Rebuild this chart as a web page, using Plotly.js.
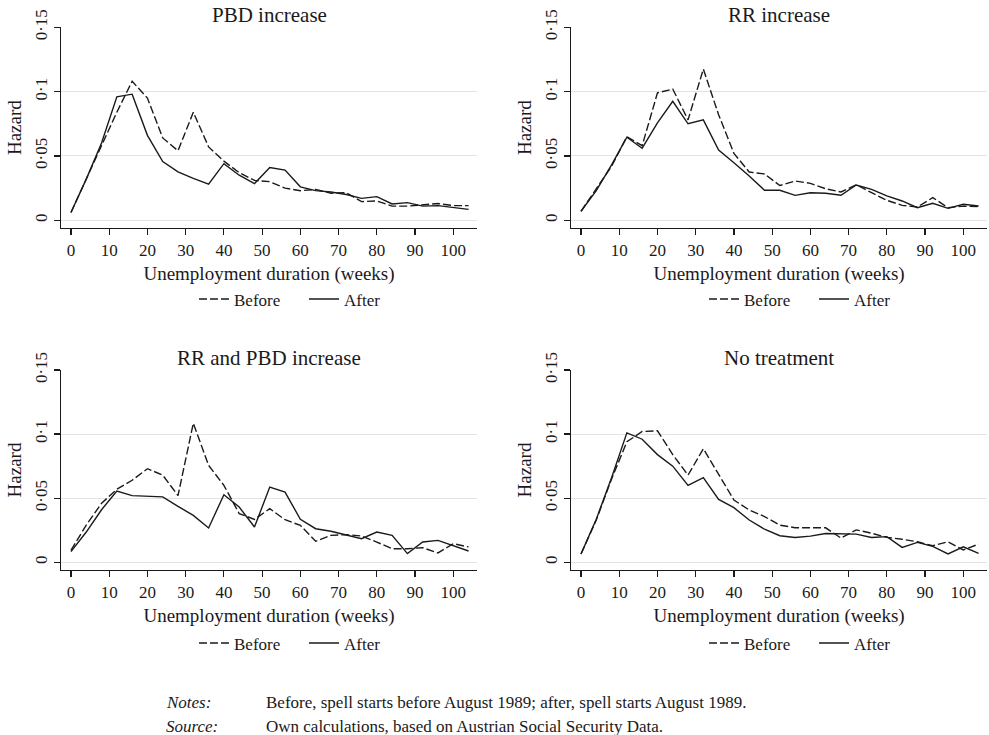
<!DOCTYPE html>
<html>
<head>
<meta charset="utf-8">
<script src="https://cdn.plot.ly/plotly-3.0.1.min.js"></script>
<style>html,body{margin:0;padding:0;background:#fff;}#chart{width:989px;height:735px;}</style>
</head>
<body>
<div id="chart"></div>
<script>
// ---- data (hazard by unemployment duration in weeks) ----
const weeks = [0,4,8,12,16,20,24,28,32,36,40,44,48,52,56,60,64,68,72,76,80,84,88,92,96,100,104];

const pbdBefore  = [0.006,0.032,0.058,0.084,0.108,0.095,0.064,0.054,0.084,0.057,0.046,0.037,0.031,0.030,0.025,0.023,0.024,0.021,0.0215,0.0145,0.015,0.011,0.011,0.012,0.013,0.0114,0.0114];
const pbdAfter   = [0.006,0.032,0.060,0.096,0.098,0.066,0.0456,0.0376,0.0326,0.028,0.044,0.035,0.0285,0.041,0.039,0.026,0.023,0.022,0.020,0.017,0.0184,0.0127,0.0137,0.011,0.0114,0.0098,0.0085];

const rrBefore   = [0.007,0.024,0.042,0.065,0.058,0.099,0.102,0.078,0.1175,0.082,0.052,0.0375,0.036,0.027,0.0305,0.0287,0.0245,0.022,0.0276,0.0214,0.0155,0.0116,0.0103,0.0176,0.0098,0.011,0.0106];
const rrAfter    = [0.007,0.023,0.043,0.0646,0.056,0.0757,0.0925,0.075,0.078,0.0545,0.0447,0.0344,0.0233,0.0233,0.0194,0.0214,0.021,0.0194,0.0274,0.024,0.0189,0.015,0.0098,0.0132,0.0093,0.0124,0.0111];

const bothBefore = [0.0094,0.029,0.046,0.057,0.064,0.073,0.068,0.052,0.1085,0.0756,0.060,0.038,0.0335,0.0418,0.0332,0.0288,0.0164,0.021,0.0216,0.0205,0.0158,0.0106,0.0106,0.0114,0.0073,0.0145,0.012];
const bothAfter  = [0.0083,0.0236,0.041,0.0556,0.052,0.0517,0.051,0.0436,0.0366,0.0268,0.0527,0.0431,0.0275,0.0587,0.0548,0.0335,0.0262,0.0242,0.021,0.0184,0.0236,0.021,0.0068,0.0158,0.0171,0.0127,0.0088];

const noneBefore = [0.0065,0.033,0.065,0.094,0.102,0.1026,0.084,0.068,0.0886,0.0685,0.0486,0.0408,0.0357,0.029,0.027,0.027,0.0269,0.0189,0.0253,0.0227,0.0194,0.018,0.016,0.0129,0.016,0.0096,0.0142];
const noneAfter  = [0.0065,0.0336,0.066,0.101,0.096,0.084,0.075,0.060,0.066,0.049,0.0426,0.033,0.0258,0.0207,0.0194,0.0204,0.0225,0.022,0.022,0.0194,0.020,0.0116,0.0155,0.0124,0.0065,0.0121,0.007];

const panelTitles = ['PBD increase','RR increase','RR and PBD increase','No treatment'];
const seriesNames = ['Before','After'];
const xTickVals = [0,10,20,30,40,50,60,70,80,90,100];
const yTickVals = [0,0.05,0.1,0.15];
const yTickText = ['0','0·05','0·1','0·15'];
const xTitle = 'Unemployment duration (weeks)';
const yTitle = 'Hazard';
const noteLabel = 'Notes:';
const noteText = 'Before, spell starts before August 1989; after, spell starts August 1989.';
const sourceLabel = 'Source:';
const sourceText = 'Own calculations, based on Austrian Social Security Data.';

// ---- layout / styling ----
const FONT = 'Liberation Serif, Times New Roman, serif';
const INK = '#1a1a1a';
const panels = [
  {before: pbdBefore,  after: pbdAfter,  xd:[0.0617,0.4823], yd:[0.6898,0.9629]},
  {before: rrBefore,   after: rrAfter,   xd:[0.5774,0.9980], yd:[0.6898,0.9629]},
  {before: bothBefore, after: bothAfter, xd:[0.0617,0.4823], yd:[0.2245,0.4966]},
  {before: noneBefore, after: noneAfter, xd:[0.5774,0.9980], yd:[0.2245,0.4966]}
];

const traces = [];
const layout = {
  width: 989, height: 735,
  margin: {l:0, r:0, t:0, b:0},
  paper_bgcolor: '#fff', plot_bgcolor: '#fff',
  font: {family: FONT, color: INK},
  annotations: [],
  showlegend: true
};

panels.forEach((p, i) => {
  const n = i + 1;
  const sx = n === 1 ? '' : String(n);
  const legKey = n === 1 ? 'legend' : 'legend' + n;
  traces.push({
    x: weeks, y: p.before, type: 'scatter', mode: 'lines', name: seriesNames[0],
    xaxis: 'x' + sx, yaxis: 'y' + sx, legend: legKey,
    line: {color: INK, width: 1.4, dash: '8px,3px'}, hoverinfo: 'skip'
  });
  traces.push({
    x: weeks, y: p.after, type: 'scatter', mode: 'lines', name: seriesNames[1],
    xaxis: 'x' + sx, yaxis: 'y' + sx, legend: legKey,
    line: {color: INK, width: 1.4}, hoverinfo: 'skip'
  });
  layout['xaxis' + sx] = {
    domain: p.xd, anchor: 'y' + sx, range: [-2.6, 106.2],
    showline: true, linecolor: INK, linewidth: 1.2,
    ticks: 'outside', ticklen: 6, tickwidth: 1.2, tickcolor: INK,
    tickvals: xTickVals, tickfont: {size: 17, family: FONT, color: INK},
    showgrid: false, zeroline: false, fixedrange: true,
    title: {text: xTitle, font: {size: 19, family: FONT, color: INK}, standoff: 8}
  };
  layout['yaxis' + sx] = {
    domain: p.yd, anchor: 'x' + sx, range: [-0.006, 0.15],
    showline: true, linecolor: INK, linewidth: 1.2,
    ticks: 'outside', ticklen: 6, tickwidth: 1.2, tickcolor: INK,
    tickvals: yTickVals, ticktext: yTickText, tickangle: -90,
    tickfont: {size: 17, family: FONT, color: INK},
    showgrid: true, gridcolor: '#e3e3e3', gridwidth: 1, zeroline: false, fixedrange: true,
    title: {text: yTitle, font: {size: 19, family: FONT, color: INK}, standoff: 5}
  };
  const cx = (p.xd[0] + p.xd[1]) / 2 + 35 / 989;
  layout[legKey] = {
    orientation: 'h', x: cx, xanchor: 'center',
    y: p.yd[0] - (n <= 2 ? 0.0972 : 0.100), yanchor: 'middle',
    font: {size: 17, family: FONT, color: INK},
    bgcolor: 'rgba(0,0,0,0)', itemwidth: 30, tracegroupgap: 0,
    entrywidth: 65, entrywidthmode: 'pixels'
  };
  layout.annotations.push({
    text: panelTitles[i], xref: 'x' + sx + ' domain', yref: 'y' + sx + ' domain',
    x: 0.5, y: 1, xanchor: 'center', yanchor: 'bottom', yshift: -2, showarrow: false,
    font: {size: 21, family: FONT, color: INK}
  });
});

layout.annotations.push(
  {text: '<i>' + noteLabel + '</i>', xref: 'paper', yref: 'paper', x: 164/989, y: 1 - 702/735,
   xanchor: 'left', yanchor: 'middle', showarrow: false, font: {size: 17, family: FONT, color: INK}},
  {text: noteText, xref: 'paper', yref: 'paper', x: 264/989, y: 1 - 702/735,
   xanchor: 'left', yanchor: 'middle', showarrow: false, font: {size: 17, family: FONT, color: INK}},
  {text: '<i>' + sourceLabel + '</i>', xref: 'paper', yref: 'paper', x: 164/989, y: 1 - 726/735,
   xanchor: 'left', yanchor: 'middle', showarrow: false, font: {size: 17, family: FONT, color: INK}},
  {text: sourceText, xref: 'paper', yref: 'paper', x: 264/989, y: 1 - 726/735,
   xanchor: 'left', yanchor: 'middle', showarrow: false, font: {size: 17, family: FONT, color: INK}}
);

Plotly.newPlot('chart', traces, layout, {displayModeBar: false, staticPlot: true});
</script>
</body>
</html>
